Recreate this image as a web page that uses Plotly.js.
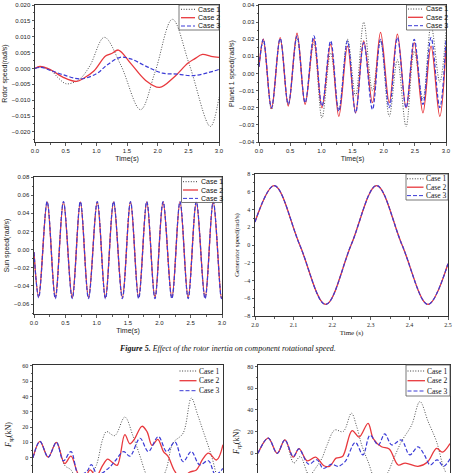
<!DOCTYPE html>
<html><head><meta charset="utf-8">
<script src="https://cdn.plot.ly/plotly-3.0.1.min.js"></script>
<style>html,body{margin:0;padding:0;background:#fff;overflow:hidden}#chart{width:454px;height:473px}</style>
</head><body><div id="chart"></div>
<script>
// ---------- data ----------
const caseNames = ['Case 1', 'Case 2', 'Case 3'];

// (a) Rotor speed (rad/s) vs Time (s)
const rotorT1 = [0, 0.08, 0.25, 0.38, 0.5, 0.62, 0.75, 0.9, 1.13, 1.4, 1.72, 1.96, 2.24, 2.52, 2.86, 3.0];
const rotorV1 = [0, 0.0005, -0.0005, -0.003, -0.0048, -0.0045, -0.003, 0.001, 0.0098, 0.001, -0.013, -0.001, 0.0155, 0.001, -0.0183, -0.009];
const rotorT2 = [0, 0.08, 0.25, 0.46, 0.68, 0.8, 0.96, 1.15, 1.25, 1.36, 1.56, 1.8, 2.03, 2.27, 2.49, 2.6, 2.73, 2.87, 3.0];
const rotorV2 = [0, 0.0006, -0.0004, -0.0028, -0.0041, -0.003, -0.0008, 0.0039, 0.0047, 0.0058, 0.0016, -0.0037, -0.006, -0.0027, 0.0016, 0.003, 0.0044, 0.0038, 0.0035];
const rotorT3 = [0, 0.1, 0.25, 0.46, 0.74, 1.01, 1.17, 1.39, 1.56, 1.83, 2.08, 2.32, 2.57, 2.81, 3.0];
const rotorV3 = [0, 0.0003, -0.0006, -0.002, -0.0033, -0.0016, 0.001, 0.0035, 0.003, 0.0005, -0.0015, -0.0018, -0.0023, -0.0014, -0.0003];

// (b) Planet 1 speed (rad/s)
const planetT = [0, 0.07, 0.20, 0.34, 0.47, 0.61, 0.74, 0.88, 1.01, 1.15, 1.28, 1.42, 1.55, 1.68, 1.82, 1.95, 2.09, 2.22, 2.36, 2.49, 2.63, 2.76, 2.90, 3.0];
const planetV1 = [0.004, 0.019, -0.021, 0.020, -0.018, 0.021, -0.017, 0.018, -0.026, 0.012, -0.021, 0.020, -0.013, 0.030, -0.010, 0.019, -0.025, 0.008, -0.031, 0.013, -0.015, 0.028, -0.005, 0.025];
const planetV2 = [0.004, 0.020, -0.0205, 0.021, -0.019, 0.0235, -0.018, 0.020, -0.020, 0.017, -0.025, 0.016, -0.023, 0.019, -0.017, 0.024, -0.017, 0.023, -0.020, 0.018, -0.023, 0.016, -0.025, 0.016];
const planetV3 = [0.004, 0.020, -0.020, 0.0205, -0.018, 0.022, -0.017, 0.022, -0.019, 0.019, -0.022, 0.019, -0.023, 0.018, -0.021, 0.020, -0.020, 0.021, -0.020, 0.020, -0.018, 0.021, -0.020, 0.020];

// (c) Sun speed (rad/s)
const sunT = [0, 0.075, 0.21, 0.34, 0.47, 0.61, 0.74, 0.87, 1.01, 1.14, 1.27, 1.41, 1.54, 1.67, 1.80, 1.93, 2.06, 2.20, 2.33, 2.46, 2.59, 2.73, 2.86, 2.99, 3.0];
const sunV1 = [-0.003, -0.051, 0.052, -0.052, 0.052, -0.053, 0.052, -0.052, 0.052, -0.053, 0.052, -0.052, 0.052, -0.053, 0.052, -0.052, 0.052, -0.053, 0.052, -0.052, 0.052, -0.053, 0.052, -0.052, -0.051];
const sunV2 = [-0.003, -0.052, 0.0525, -0.053, 0.0525, -0.053, 0.0525, -0.053, 0.0525, -0.053, 0.0525, -0.053, 0.0525, -0.053, 0.0525, -0.053, 0.0525, -0.053, 0.0525, -0.053, 0.0525, -0.053, 0.0525, -0.053, -0.052];
const sunV3 = [-0.003, -0.053, 0.053, -0.054, 0.053, -0.054, 0.053, -0.054, 0.053, -0.054, 0.053, -0.054, 0.053, -0.054, 0.053, -0.054, 0.053, -0.054, 0.053, -0.054, 0.053, -0.054, 0.053, -0.054, -0.053];

// (d) Generator speed (rad/s)
const genT = [2.0, 2.05, 2.116, 2.183, 2.249, 2.315, 2.381, 2.448, 2.5];
const genV1 = [2.6, 6.7, 0, -6.7, 0, 6.7, 0, -6.7, -2.1];
const genV2 = [2.6, 6.7, 0, -6.7, 0, 6.7, 0, -6.7, -2.1];
const genV3 = [2.6, 6.7, 0, -6.7, 0, 6.7, 0, -6.7, -2.1];

// (e) F_sp (kN)
const fspT1 = [0, 0.11, 0.24, 0.37, 0.5, 0.6, 0.75, 0.9, 1.0, 1.1, 1.16, 1.29, 1.45, 1.58, 1.69, 1.8, 1.95, 2.1, 2.21, 2.37, 2.5, 2.6, 2.69, 2.82, 2.92, 3.0];
const fspV1 = [0, 10.6, 0.3, 10, -5, -8, -20, -12, -5, 12, 17, 14.4, 26.5, 14, 1, -12, -20, -8, 9.5, 16, 38.9, 28, 17, 1, -14, -20];
const fspT2 = [0, 0.11, 0.24, 0.37, 0.5, 0.6, 0.72, 0.82, 0.9, 1.0, 1.1, 1.18, 1.25, 1.33, 1.45, 1.53, 1.6, 1.72, 1.8, 1.88, 1.97, 2.06, 2.13, 2.24, 2.35, 2.47, 2.58, 2.68, 2.77, 2.9, 3.0];
const fspV2 = [0, 10.6, 0.3, 10, -3.8, 1, -11, -13, -8, -12, -5, -1, -3, -5, 15, 9, 12, 20.5, 17, 8, 12, 4, 1, -9, -14, -9.5, -8, -1, 3, -1.5, 8.5];
const fspT3 = [0, 0.11, 0.24, 0.37, 0.48, 0.6, 0.72, 0.85, 0.92, 1.02, 1.19, 1.3, 1.43, 1.53, 1.69, 1.82, 1.98, 2.11, 2.24, 2.37, 2.5, 2.63, 2.77, 2.88, 3.0];
const fspV3 = [0, 10.6, 0.3, 10, -2, 4, -11, -9, -4.5, -11, -7, -2, 4, 1, 12.7, 4, 13.8, 4, 10.3, -2.6, 4, -4.6, -2, -11, -7];

// (f) F_rp (kN)
const frpT1 = [0, 0.16, 0.3, 0.42, 0.56, 0.66, 0.8, 0.92, 1.0, 1.08, 1.2, 1.33, 1.46, 1.54, 1.62, 1.72, 1.85, 2.0, 2.12, 2.24, 2.4, 2.53, 2.66, 2.79, 2.9, 3.0];
const frpV1 = [0, 14, 0, 12.3, -9, -3, -20, -12, -4.5, 7.7, 21.5, 20, 37, 25, 7.7, -7.7, -25, -20, -5, 10.7, 26, 47.7, 29, 10.7, -13, -25];
const frpT2 = [0, 0.16, 0.3, 0.42, 0.55, 0.64, 0.77, 0.9, 1.03, 1.12, 1.22, 1.32, 1.47, 1.58, 1.72, 1.8, 1.93, 2.05, 2.19, 2.3, 2.5, 2.65, 2.79, 2.88, 3.0];
const frpV2 = [0, 14, 0, 12.3, -3.5, 4.3, -7, -3.5, -11.5, -12, -4.5, -3, 21, 15, 27.7, 13.6, 6, 4, -10.8, -9, -12, -8, 4.5, 1, 9];
const frpT3 = [0, 0.16, 0.3, 0.42, 0.55, 0.64, 0.79, 0.92, 1.02, 1.15, 1.25, 1.36, 1.52, 1.64, 1.75, 1.88, 1.98, 2.09, 2.24, 2.37, 2.5, 2.6, 2.69, 2.8, 2.9, 3.0];
const frpV3 = [0, 14, 0, 12.3, -3, 4, -10, -6, -14, -10, -12, -7.7, 10, -1.5, 16.6, 7.7, 18, 7.7, 12.3, -1.5, 6, -1.5, -10.8, -6, -12, -5];

// ---------- styles ----------
const W = 454, H = 473;
const colors = ['#3c3c3c', '#e8383d', '#3b3bd6'];
const dashes = ['1px,1.6px', 'solid', '4px,2px'];
const widths = [0.9, 1.3, 1.2];
const SANS = 'Liberation Sans, Arial, sans-serif';
const SERIF = 'Liberation Serif, Times New Roman, serif';

// pixel boxes of the plot areas
const boxes = [
  {x0: 35, x1: 219, y0: 5, y1: 142},
  {x0: 259, x1: 446, y0: 5, y1: 142},
  {x0: 34, x1: 222, y0: 177, y1: 314},
  {x0: 255, x1: 448, y0: 174, y1: 316},
  {x0: 33, x1: 223, y0: 365, y1: 473},
  {x0: 258, x1: 450, y0: 365, y1: 473}
];

const panels = [
  {t: [rotorT1, rotorT2, rotorT3], v: [rotorV1, rotorV2, rotorV3], font: SANS,
   xr: [0, 3], xd: 0.5, xm: 0.25, xf: '.1f', yr: [-0.0232, 0.020], yd: 0.005, ym: 0.0025, yf: '.3f',
   ytitle: 'Rotor speed(rad/s)', xtitle: 'Time(s)', xlabels: true},
  {t: [planetT, planetT, planetT], v: [planetV1, planetV2, planetV3], font: SANS,
   xr: [0, 3], xd: 0.5, xm: 0.25, xf: '.1f', yr: [-0.04, 0.04], yd: 0.01, ym: 0.005, yf: '.2f',
   ytitle: 'Planet 1 speed(rad/s)', xtitle: 'Time(s)', xlabels: true},
  {t: [sunT, sunT, sunT], v: [sunV1, sunV2, sunV3], font: SANS,
   xr: [0, 3], xd: 0.5, xm: 0.25, xf: '.1f', yr: [-0.071, 0.08], yd: 0.02, ym: 0.01, yf: '.2f',
   ytitle: 'Sun speed(rad/s)', xtitle: 'Time(s)', xlabels: true},
  {t: [genT, genT, genT], v: [genV1, genV2, genV3], font: SERIF,
   xr: [2, 2.5], xd: 0.1, xm: 0.05, xf: '.1f', yr: [-8, 8], yd: 2, ym: 1, yf: 'd',
   ytitle: 'Generator speed(rad/s)', xtitle: 'Time (s)', xlabels: true},
  {t: [fspT1, fspT2, fspT3], v: [fspV1, fspV2, fspV3], font: SERIF,
   xr: [0, 3], xd: 0.5, xm: 0.25, xf: '.1f', yr: [-10, 60.5], yd: 10, ym: 5, yf: 'd',
   ytitle: null, xtitle: null, xlabels: false},
  {t: [frpT1, frpT2, frpT3], v: [frpV1, frpV2, frpV3], font: SERIF,
   xr: [0, 3], xd: 0.5, xm: 0.25, xf: '.1f', yr: [-18.2, 81.5], yd: 20, ym: 10, yf: 'd',
   ytitle: null, xtitle: null, xlabels: false}
];

// legend placements (pixels)
const legends = [
  {box: [179, 5, 219, 30], s: [181, 195], tx: 197, rows: [9.3, 17.7, 26], font: SANS, size: 7},
  {box: [406.5, 5, 446, 30], s: [408, 423], tx: 424.5, rows: [9, 17.3, 25.7], font: SANS, size: 7},
  {box: [181.5, 177, 222, 202.5], s: [183, 198], tx: 199.5, rows: [181.7, 190, 198.4], font: SANS, size: 7},
  {box: [406, 174, 448, 200], s: [407, 423.5], tx: 424.5, rows: [178.8, 187.2, 195.6], font: SERIF, size: 7.5},
  {box: null, s: [179.5, 196.5], tx: 198, rows: [371, 380.7, 390.7], font: SERIF, size: 7.5},
  {box: [406, 365, 450, 396], s: [407.5, 425], tx: 426, rows: [371, 380.7, 391], font: SERIF, size: 7.5}
];

const px = x => x / W;
const py = y => 1 - y / H;

const data = [];
const layout = {
  width: W, height: H, margin: {l: 0, r: 0, t: 0, b: 0},
  paper_bgcolor: '#ffffff', plot_bgcolor: '#ffffff', showlegend: false,
  shapes: [], annotations: []
};

panels.forEach((p, i) => {
  const n = i + 1;
  const xa = 'x' + (n > 1 ? n : ''), ya = 'y' + (n > 1 ? n : '');
  const b = boxes[i];
  for (let c = 0; c < 3; c++) {
    data.push({
      type: 'scatter', mode: 'lines', name: caseNames[c], x: p.t[c], y: p.v[c],
      xaxis: xa, yaxis: ya, hoverinfo: 'skip',
      line: {color: colors[c], dash: dashes[c], width: widths[c], shape: 'spline', smoothing: 1}
    });
  }
  const common = {
    showline: true, linecolor: '#333', linewidth: 1, mirror: true,
    ticks: 'outside', ticklen: 2.5, tickwidth: 0.8, tickcolor: '#333',
    showgrid: false, zeroline: false, fixedrange: true,
    tickfont: {family: p.font, size: 6, color: '#222'}
  };
  const xaxis = Object.assign({}, common, {
    domain: [px(b.x0), px(b.x1)], anchor: ya, range: p.xr,
    tick0: p.xr[0], dtick: p.xd, tickformat: p.xf, showticklabels: p.xlabels,
    minor: {ticks: 'outside', ticklen: 1.5, tickcolor: '#333', dtick: p.xm, tick0: p.xr[0]}
  });
  if (p.xtitle) xaxis.title = {text: p.xtitle, font: {family: p.font, size: 7, color: '#222'}, standoff: 3};
  const yaxis = Object.assign({}, common, {
    domain: [py(b.y1), py(b.y0)], anchor: xa, range: p.yr,
    tick0: 0, dtick: p.yd, tickformat: p.yf,
    minor: {ticks: 'outside', ticklen: 1.5, tickcolor: '#333', dtick: p.ym, tick0: 0}
  });
  if (p.ytitle) yaxis.title = {text: p.ytitle, font: {family: p.font, size: 7, color: '#222'}, standoff: 3};
  layout['xaxis' + (n > 1 ? n : '')] = xaxis;
  layout['yaxis' + (n > 1 ? n : '')] = yaxis;
});

// legends drawn as shapes + text
legends.forEach(L => {
  if (L.box) {
    layout.shapes.push({type: 'rect', xref: 'paper', yref: 'paper',
      x0: px(L.box[0]), x1: px(L.box[2]), y0: py(L.box[3]), y1: py(L.box[1]),
      line: {color: '#555', width: 0.8}, fillcolor: 'rgba(255,255,255,0.85)', layer: 'above'});
  }
  for (let c = 0; c < 3; c++) {
    layout.shapes.push({type: 'line', xref: 'paper', yref: 'paper',
      x0: px(L.s[0]), x1: px(L.s[1]), y0: py(L.rows[c]), y1: py(L.rows[c]),
      line: {color: colors[c], dash: dashes[c], width: c === 1 ? 1.3 : 1}, layer: 'above'});
    layout.annotations.push({xref: 'paper', yref: 'paper', x: px(L.tx), y: py(L.rows[c]),
      xanchor: 'left', yanchor: 'middle', showarrow: false, borderpad: 0,
      text: caseNames[c], font: {family: L.font, size: L.size, color: '#111'}});
  }
});

// y titles of the two force panels (axes are cut by the page edge)
layout.annotations.push({xref: 'paper', yref: 'paper', x: px(9), y: py(435), textangle: -90,
  showarrow: false, xanchor: 'center', yanchor: 'middle',
  text: '<i>F</i><sub><i>sp</i></sub>(kN)', font: {family: SERIF, size: 8, color: '#111'}});
layout.annotations.push({xref: 'paper', yref: 'paper', x: px(237), y: py(442), textangle: -90,
  showarrow: false, xanchor: 'center', yanchor: 'middle',
  text: '<i>F</i><sub><i>rp</i></sub>(kN)', font: {family: SERIF, size: 8, color: '#111'}});

// figure caption
layout.annotations.push({xref: 'paper', yref: 'paper', x: 0.5, y: py(348), showarrow: false,
  xanchor: 'center', yanchor: 'middle',
  text: '<b><i>Figure 5.</i></b><i> Effect of the rotor inertia on component rotational speed.</i>',
  font: {family: SERIF, size: 8, color: '#111'}});

Plotly.newPlot('chart', data, layout, {staticPlot: true, displayModeBar: false});
</script>
</body></html>
